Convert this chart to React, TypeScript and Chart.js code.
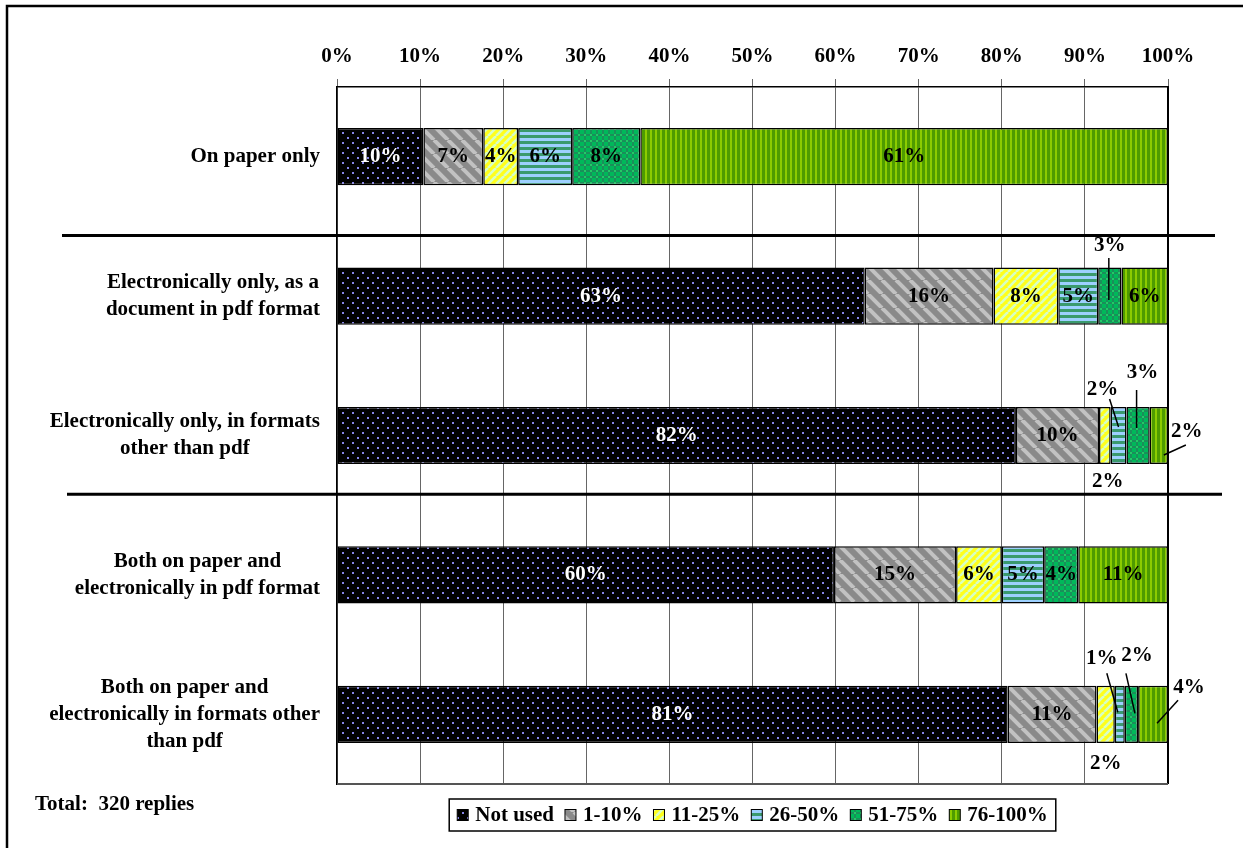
import { useEffect, useRef } from 'react';
import { Chart, registerables } from 'chart.js';
Chart.register(...registerables);

const categories: string[][] = [
  ['On paper only'],
  ['Electronically only, as a', 'document in pdf format'],
  ['Electronically only, in formats', 'other than pdf'],
  ['Both on paper and', 'electronically in pdf format'],
  ['Both on paper and', 'electronically in formats other', 'than pdf'],
];
const seriesNames = ['Not used', '1-10%', '11-25%', '26-50%', '51-75%', '76-100%'];

// bar widths (share of replies, %)
const notUsed = [10.4, 63.5, 81.7, 59.8, 80.7];
const pct1to10 = [7.2, 15.5, 10.0, 14.7, 10.7];
const pct11to25 = [4.2, 7.8, 1.4, 5.5, 2.2];
const pct26to50 = [6.5, 4.8, 1.9, 5.1, 1.2];
const pct51to75 = [8.2, 2.8, 2.8, 4.1, 1.6];
const pct76to100 = [63.5, 5.6, 2.2, 10.8, 3.6];

// printed labels
const lblNotUsed = ['10%', '63%', '82%', '60%', '81%'];
const lbl1to10 = ['7%', '16%', '10%', '15%', '11%'];
const lbl11to25 = ['4%', '8%', '2%', '6%', '2%'];
const lbl26to50 = ['6%', '5%', '2%', '5%', '1%'];
const lbl51to75 = ['8%', '3%', '3%', '4%', '2%'];
const lbl76to100 = ['61%', '6%', '2%', '11%', '4%'];

const xTicks = [0, 10, 20, 30, 40, 50, 60, 70, 80, 90, 100];
const totalNote = 'Total:  320 replies';

const FONT = "'Liberation Serif', 'Times New Roman', serif";
const FS = 21;

// label placement for small segments: offsets from segment centre
type Place = { dx: number; dy: number; leader?: [number, number, number, number] };
const outside: Record<string, Place> = {
  '4-1': { dx: 0, dy: -51, leader: [-1, -38, -1, 4] },
  '2-2': { dx: 3, dy: 46.5 },
  '3-2': { dx: -16, dy: -45.5, leader: [-9, -36.5, 0, -8.5] },
  '4-2': { dx: 4.5, dy: -62.5, leader: [-1.5, -45.5, -1.5, -7.5] },
  '5-2': { dx: 28, dy: -3.5, leader: [27, 9.5, 5, 19.5] },
  '2-4': { dx: 0, dy: 49 },
  '3-4': { dx: -18, dy: -56, leader: [-13, -41, -2, -2] },
  '4-4': { dx: 5.5, dy: -59, leader: [-5.5, -41, 3.5, -1] },
  '5-4': { dx: 36, dy: -27, leader: [25, -14, 4, 9] },
};

function tile(w: number, h: number, draw: (c: CanvasRenderingContext2D) => void) {
  const cv = document.createElement('canvas');
  cv.width = w;
  cv.height = h;
  const c = cv.getContext('2d')!;
  draw(c);
  return c.createPattern(cv, 'repeat')!;
}

function makePatterns() {
  const dots = tile(10, 10, (c) => {
    c.fillStyle = '#000000';
    c.fillRect(0, 0, 10, 10);
    c.fillStyle = '#8585e6';
    c.fillRect(2, 2, 2, 2);
    c.fillRect(7, 7, 2, 2);
  });
  const diag = (s: number, bg: string, fg: string, lw: number, back: boolean) =>
    tile(s, s, (c) => {
      c.fillStyle = bg;
      c.fillRect(0, 0, s, s);
      c.strokeStyle = fg;
      c.lineWidth = lw;
      for (let k = -1; k <= 1; k++) {
        c.beginPath();
        if (back) {
          c.moveTo(k * s, 0);
          c.lineTo(k * s + s, s);
        } else {
          c.moveTo(k * s, s);
          c.lineTo(k * s + s, 0);
        }
        c.stroke();
      }
    });
  const grey = diag(14, '#8a8a8a', '#c2c2c2', 4, true);
  const yellow = diag(8, '#ffff1a', '#d8ffc4', 2.6, false);
  const horiz = tile(6, 6, (c) => {
    c.fillStyle = '#9dd0ff';
    c.fillRect(0, 0, 6, 6);
    c.fillStyle = '#3a9a6e';
    c.fillRect(0, 3, 6, 3);
  });
  const cross = tile(6, 6, (c) => {
    c.fillStyle = '#00b85a';
    c.fillRect(0, 0, 6, 6);
    c.fillStyle = '#1a8f5a';
    c.fillRect(2, 0, 2, 6);
    c.fillRect(0, 2, 6, 2);
    c.fillStyle = '#22cc66';
    c.fillRect(2, 2, 2, 2);
  });
  const vert = tile(5, 5, (c) => {
    c.fillStyle = '#4e9c00';
    c.fillRect(0, 0, 5, 5);
    c.fillStyle = '#8ccc00';
    c.fillRect(0, 0, 2, 5);
  });
  return [dots, grey, yellow, horiz, cross, vert];
}

export default function App() {
  const ref = useRef<HTMLCanvasElement | null>(null);

  useEffect(() => {
    document.body.style.margin = '0';
    const canvas = ref.current!;
    const patterns = makePatterns();
    const values = [notUsed, pct1to10, pct11to25, pct26to50, pct51to75, pct76to100];
    const texts = [lblNotUsed, lbl1to10, lbl11to25, lbl26to50, lbl51to75, lbl76to100];
    const font = `bold ${FS}px ${FONT}`;

    const decor = {
      id: 'decor',
      afterDatasetsDraw(chart: any) {
        const ctx: CanvasRenderingContext2D = chart.ctx;
        const area = chart.chartArea;
        const y = chart.scales.y;
        ctx.save();
        // plot border right and bottom
        ctx.lineWidth = 2;
        ctx.beginPath();
        ctx.moveTo(area.right, area.top);
        ctx.lineTo(area.right, area.bottom);
        ctx.strokeStyle = '#000';
        ctx.stroke();
        ctx.beginPath();
        ctx.strokeStyle = '#555';
        ctx.moveTo(area.left, area.bottom);
        ctx.lineTo(area.right, area.bottom);
        ctx.stroke();

        // data labels
        ctx.font = font;
        ctx.textAlign = 'center';
        ctx.textBaseline = 'middle';
        chart.data.datasets.forEach((ds: any, di: number) => {
          const meta = chart.getDatasetMeta(di);
          meta.data.forEach((bar: any, ri: number) => {
            const p = bar.getProps(['x', 'y', 'base'], true);
            const cx = (p.x + p.base) / 2;
            const cy = p.y;
            const txt = texts[di][ri];
            const place = outside[`${di}-${ri}`];
            ctx.fillStyle = di === 0 ? '#ffffff' : '#000000';
            if (place) {
              ctx.fillStyle = '#000000';
              if (place.leader) {
                const [x1, y1, x2, y2] = place.leader;
                ctx.strokeStyle = '#000';
                ctx.lineWidth = 1.5;
                ctx.beginPath();
                ctx.moveTo(cx + x1, cy + y1);
                ctx.lineTo(cx + x2, cy + y2);
                ctx.stroke();
              }
              ctx.fillText(txt, cx + place.dx, cy + place.dy);
            } else {
              ctx.fillText(txt, cx, cy);
            }
          });
        });

        // category labels (block centred, block right-aligned)
        ctx.fillStyle = '#000';
        const lh = 27;
        categories.forEach((lines, i) => {
          const cy = y.getPixelForValue(i);
          const maxW = Math.max(...lines.map((l) => ctx.measureText(l).width));
          const cx = 320 - maxW / 2;
          lines.forEach((l, k) => {
            ctx.fillText(l, cx, cy + (k - (lines.length - 1) / 2) * lh);
          });
        });

        // group separators
        const p = (i: number) => y.getPixelForValue(i);
        ctx.strokeStyle = '#000';
        ctx.lineWidth = 3;
        const s1 = (p(0) + p(1)) / 2 + 9;
        const s2 = (p(2) + p(3)) / 2 - 11;
        ctx.beginPath();
        ctx.moveTo(62, s1);
        ctx.lineTo(1215, s1);
        ctx.moveTo(67, s2);
        ctx.lineTo(1222, s2);
        ctx.stroke();

        // total note
        ctx.textAlign = 'left';
        ctx.fillText(totalNote, 35, 805);

        // legend
        const box = 11;
        const gapBox = 7;
        const gapItem = 11;
        const pad = 8;
        const widths = seriesNames.map((n) => box + gapBox + ctx.measureText(n).width);
        const total = widths.reduce((a, b) => a + b, 0) + gapItem * (seriesNames.length - 1) + pad * 2;
        const midX = (area.left + area.right) / 2;
        let lx = midX - total / 2;
        const ly = 815;
        ctx.lineWidth = 1.5;
        ctx.strokeStyle = '#000';
        ctx.strokeRect(lx, 799, total, 32);
        lx += pad;
        seriesNames.forEach((n, i) => {
          ctx.fillStyle = patterns[i];
          ctx.fillRect(lx, ly - box / 2, box, box);
          ctx.lineWidth = 1;
          ctx.strokeRect(lx, ly - box / 2, box, box);
          ctx.fillStyle = '#000';
          ctx.fillText(n, lx + box + gapBox, ly + 1);
          lx += widths[i] + gapItem;
        });

        // outer frame
        ctx.lineWidth = 2.5;
        ctx.strokeStyle = '#000';
        ctx.strokeRect(7, 6, 1400, 1000);
        ctx.restore();
      },
    };

    const chart = new Chart(canvas, {
      type: 'bar',
      data: {
        labels: categories.map((c) => c.join(' ')),
        datasets: seriesNames.map((name, i) => ({
          label: name,
          data: values[i],
          backgroundColor: patterns[i],
          borderColor: '#000000',
          borderWidth: 1.5,
          borderSkipped: false,
          categoryPercentage: 1,
          barPercentage: 0.41,
        })),
      },
      options: {
        indexAxis: 'y',
        responsive: false,
        animation: false,
        devicePixelRatio: 1,
        layout: { padding: { left: 0, right: 75, top: 0, bottom: 64 } },
        plugins: { legend: { display: false }, tooltip: { enabled: false } },
        scales: {
          x: {
            position: 'top',
            stacked: true,
            min: 0,
            max: 100,
            afterBuildTicks: (scale: any) => {
              scale.ticks = xTicks.map((v) => ({ value: v }));
            },
            afterFit: (scale: any) => {
              scale.height = 87;
            },
            ticks: {
              callback: (v: any) => `${v}%`,
              color: '#000',
              font: { family: FONT, size: FS, weight: 'bold' },
              padding: 10,
              maxRotation: 0,
            },
            grid: { color: '#666', lineWidth: 1, drawTicks: true, tickLength: 8 },
            border: { display: true, color: '#000', width: 1.5 },
          },
          y: {
            stacked: true,
            afterFit: (scale: any) => {
              scale.width = 337;
            },
            ticks: { display: false },
            grid: { display: false, drawTicks: false },
            border: { display: true, color: '#000', width: 1.5 },
          },
        },
      },
      plugins: [decor],
    } as any);
    return () => chart.destroy();
  }, []);

  return (
    <div style={{ width: 1243, height: 848 }}>
      <canvas ref={ref} width={1243} height={848} style={{ display: 'block' }} />
    </div>
  );
}
